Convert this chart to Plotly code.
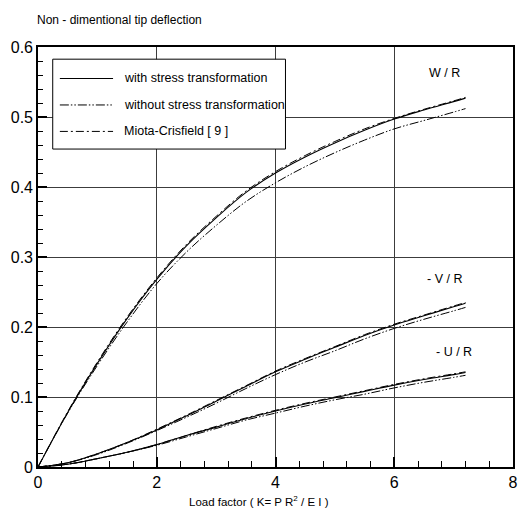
import plotly.graph_objects as go

K = [0, 0.5, 1, 1.5, 2, 2.5, 3, 3.5, 4, 4.5, 5, 5.5, 6, 6.5, 7, 7.2]

W_with = [0, 0.078, 0.148, 0.212, 0.268, 0.316, 0.356, 0.392, 0.420, 0.443, 0.463, 0.481, 0.497, 0.510, 0.522, 0.527]
W_without = [0, 0.077, 0.145, 0.207, 0.262, 0.307, 0.345, 0.379, 0.406, 0.429, 0.449, 0.467, 0.483, 0.495, 0.507, 0.512]
W_miota = [0, 0.079, 0.150, 0.214, 0.270, 0.318, 0.358, 0.394, 0.422, 0.445, 0.465, 0.483, 0.498, 0.511, 0.523, 0.528]

V_with = [0, 0.006, 0.019, 0.035, 0.053, 0.073, 0.094, 0.115, 0.136, 0.154, 0.171, 0.188, 0.203, 0.216, 0.229, 0.234]
V_without = [0, 0.006, 0.018, 0.034, 0.052, 0.071, 0.091, 0.112, 0.132, 0.150, 0.166, 0.183, 0.198, 0.211, 0.223, 0.228]
V_miota = [0, 0.006, 0.019, 0.035, 0.054, 0.074, 0.095, 0.116, 0.137, 0.155, 0.172, 0.189, 0.204, 0.217, 0.230, 0.235]

U_with = [0, 0.004, 0.012, 0.021, 0.032, 0.045, 0.057, 0.069, 0.080, 0.090, 0.099, 0.108, 0.117, 0.125, 0.132, 0.135]
U_without = [0, 0.004, 0.012, 0.021, 0.031, 0.043, 0.055, 0.067, 0.077, 0.087, 0.096, 0.104, 0.113, 0.121, 0.128, 0.131]
U_miota = [0, 0.004, 0.012, 0.021, 0.032, 0.045, 0.058, 0.070, 0.081, 0.091, 0.100, 0.109, 0.118, 0.126, 0.133, 0.136]

legend_names = ["with stress transformation", "without stress transformation", "Miota-Crisfield [ 9 ]"]
curve_labels = ["W / R", "- V / R", "- U / R"]
curve_label_pos = [(6.85, 0.563), (6.85, 0.268), (7.0, 0.165)]

FONT = "Liberation Sans, Arial, sans-serif"
styles = [
    dict(color="black", width=1.1, dash="solid"),
    dict(color="black", width=1.0, dash="9px,2px,1.5px,2px,1.5px,2px"),
    dict(color="black", width=1.0, dash="8px,3px,2px,3px"),
]

fig = go.Figure()
series = [
    (W_with, W_without, W_miota),
    (V_with, V_without, V_miota),
    (U_with, U_without, U_miota),
]
for trio in series:
    for i, ys in enumerate(trio):
        fig.add_trace(go.Scatter(x=K, y=ys, mode="lines", line=styles[i],
                                 showlegend=False, hoverinfo="skip", line_shape="spline"))

for lab, (lx, ly) in zip(curve_labels, curve_label_pos):
    fig.add_annotation(x=lx, y=ly, xref="x", yref="y", text=lab, showarrow=False,
                       font=dict(family=FONT, size=12.5, color="black"))

# manual legend box
fig.add_shape(type="rect", xref="paper", yref="paper", x0=0.031, x1=0.521, y0=0.757, y1=0.971,
              line=dict(color="black", width=1), fillcolor="white", layer="above")
rows_y = [0.925, 0.862, 0.799]
for i, name in enumerate(legend_names):
    fig.add_shape(type="line", xref="paper", yref="paper", x0=0.046, x1=0.158,
                  y0=rows_y[i], y1=rows_y[i], line=styles[i], layer="above")
    fig.add_annotation(x=0.177, y=rows_y[i], xref="paper", yref="paper", text=name,
                       showarrow=False, xanchor="left", yanchor="middle",
                       font=dict(family=FONT, size=12.5, color="black"))

fig.add_annotation(x=-0.006, y=1.065, xref="paper", yref="paper",
                   text="Non - dimentional tip deflection", showarrow=False,
                   xanchor="left", yanchor="middle", font=dict(family=FONT, size=12, color="black"))

fig.add_annotation(x=0.465, y=-0.081, xref="paper", yref="paper",
                   text="Load factor ( K= P R<sup>2</sup> / E I )", showarrow=False,
                   xanchor="center", yanchor="middle", font=dict(family=FONT, size=11.5, color="black"))

axis_common = dict(
    showline=True, linecolor="black", linewidth=1.6, mirror=True,
    showgrid=True, gridcolor="#3c3c3c", gridwidth=1,
    ticks="inside", tickcolor="black", tickwidth=1.6,
    tickfont=dict(family=FONT, size=16, color="black"),
    zeroline=False,
)

fig.update_xaxes(range=[0, 8], dtick=2, tick0=0, ticklen=10,
                 minor=dict(dtick=0.4, ticks="inside", ticklen=6, tickcolor="black", tickwidth=1, showgrid=False),
                 **axis_common)
fig.update_yaxes(range=[0, 0.6], dtick=0.1, tick0=0, ticklen=9,
                 minor=dict(dtick=0.02, ticks="inside", ticklen=5, tickcolor="black", tickwidth=1, showgrid=False),
                 **axis_common)

fig.update_layout(
    width=523, height=509,
    margin=dict(l=38, r=5, t=47, b=42),
    paper_bgcolor="white", plot_bgcolor="white",
    showlegend=False,
    font=dict(family=FONT, color="black"),
)

fig.write_html("out.html", config={"displayModeBar": False},
               post_script="document.body.style.margin='0';document.body.style.overflow='hidden';")
